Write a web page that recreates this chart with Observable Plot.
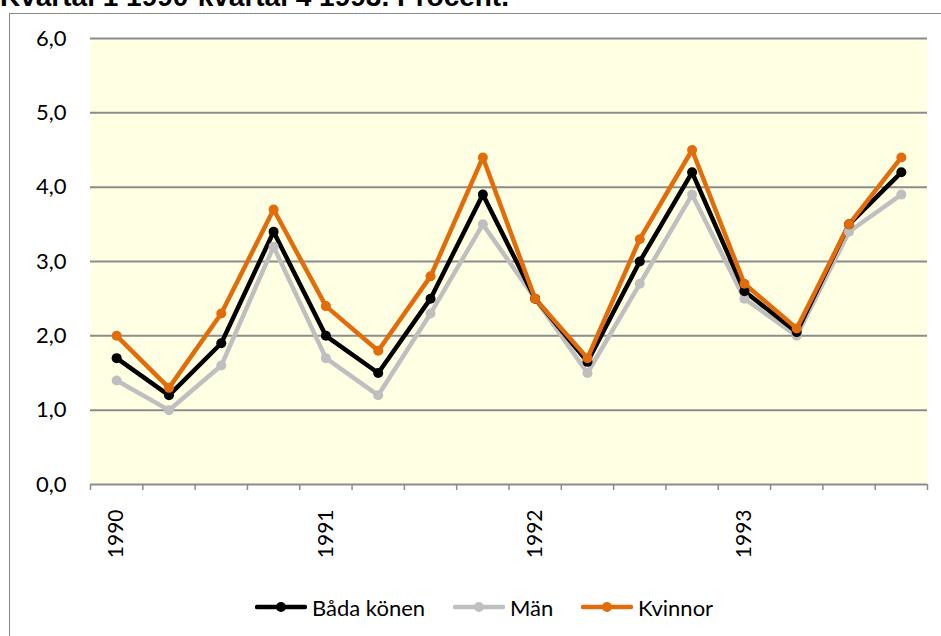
<!DOCTYPE html>
<html>
<head>
<meta charset="utf-8">
<script src="https://cdn.jsdelivr.net/npm/d3@7"></script>
<script src="https://cdn.jsdelivr.net/npm/@observablehq/plot@0.6"></script>
<style>
  html, body { margin: 0; padding: 0; background: #fff; overflow: hidden; }
  body { width: 941px; height: 636px; position: relative; }
  #title { position: absolute; left: 0px; top: -18px; font-family: "Liberation Sans", Arial, sans-serif; font-weight: bold; font-size: 28px; line-height: 29px; white-space: nowrap; color: #000; }
  #frame { position: absolute; left: 9px; top: 13px; width: 1000px; height: 700px; border: 1.5px solid #8a8a8a; box-sizing: border-box; }
  #chart { position: absolute; left: 0; top: 0; }
  #legend { position: absolute; left: 0; top: 594px; width: 941px; height: 26px; font-family: Lato, "Open Sans", sans-serif; font-size: 22px; color: #000; }
  .item { position: absolute; top: 0; display: flex; align-items: center; height: 26px; }
  .item svg { margin-right: 5px; }
</style>
</head>
<body>
<div id="title">Kvartal 1 1990-kvartal 4 1993. Procent.</div>
<div id="frame"></div>
<div id="chart"></div>
<div id="legend"></div>
<script>
const quarters = ["1990K1","1990K2","1990K3","1990K4","1991K1","1991K2","1991K3","1991K4","1992K1","1992K2","1992K3","1992K4","1993K1","1993K2","1993K3","1993K4"];
const yearLabels = ["1990","1991","1992","1993"];
const yearIndex = [0, 4, 8, 12];
const seriesNames = ["Båda könen", "Män", "Kvinnor"];
const seriesColors = ["#000000", "#BFBFBF", "#E36C0A"];
const bada    = [1.7, 1.2, 1.9, 3.4, 2.0, 1.5, 2.5, 3.9, 2.5, 1.65, 3.0, 4.2, 2.6, 2.05, 3.5, 4.2];
const man     = [1.4, 1.0, 1.6, 3.2, 1.7, 1.2, 2.3, 3.5, 2.5, 1.5, 2.7, 3.9, 2.5, 2.0, 3.4, 3.9];
const kvinnor = [2.0, 1.3, 2.3, 3.7, 2.4, 1.8, 2.8, 4.4, 2.5, 1.7, 3.3, 4.5, 2.7, 2.1, 3.5, 4.4];
const yTicks = [0, 1, 2, 3, 4, 5, 6];

const allSeries = [bada, man, kvinnor];
const rows = [];
const drawOrder = [1, 0, 2];
for (const s of drawOrder) {
  allSeries[s].forEach((v, i) => rows.push({series: seriesNames[s], x: i + 0.5, q: quarters[i], value: v}));
}
const years = yearLabels.map((y, k) => ({label: y, x: yearIndex[k] + 0.5}));
const boundaries = d3.range(quarters.length + 1);

const fmt = d => d.toFixed(1).replace(".", ",");

const chart = Plot.plot({
  width: 941,
  height: 600,
  marginLeft: 90,
  marginRight: 14,
  marginTop: 38,
  marginBottom: 116,
  style: {background: "transparent", fontFamily: "Lato, 'Open Sans', sans-serif", fontSize: "22px", color: "#000"},
  x: {type: "linear", domain: [0, quarters.length]},
  y: {domain: [0, 6]},
  color: {domain: seriesNames, range: seriesColors},
  marks: [
    Plot.frame({fill: "#FFFFE3", stroke: null}),
    Plot.ruleY(yTicks, {stroke: "#8c8c8c", strokeWidth: 2}),
    Plot.axisX(boundaries, {tickFormat: () => "", tickSize: 6, stroke: "#8c8c8c", strokeWidth: 1.5, tickPadding: 0, label: null}),
    Plot.axisY(yTicks, {tickFormat: fmt, tickSize: 0, tickPadding: 24, fontSize: 22, fill: "#000", label: null}),
    Plot.text(years, {x: "x", y: 0, text: "label", rotate: -90, textAnchor: "end", dy: 25, fill: "#000", fontSize: 21}),
    Plot.line(rows, {x: "x", y: "value", z: "series", stroke: "series", strokeWidth: 4.5, strokeLinejoin: "round", strokeLinecap: "round"}),
    Plot.dot(rows, {x: "x", y: "value", fill: "series", r: 5, stroke: null})
  ]
});
document.getElementById("chart").appendChild(chart);

// Legend
const legendPos = [255, 453, 581];
const legend = document.getElementById("legend");
seriesNames.forEach((name, i) => {
  const item = document.createElement("div");
  item.className = "item";
  item.style.left = legendPos[i] + "px";
  item.innerHTML = `<svg width="52" height="12"><line x1="2" y1="6" x2="50" y2="6" stroke="${seriesColors[i]}" stroke-width="4.5" stroke-linecap="round"/><circle cx="26" cy="6" r="5" fill="${seriesColors[i]}"/></svg><span>${name}</span>`;
  legend.appendChild(item);
});
</script>
</body>
</html>
